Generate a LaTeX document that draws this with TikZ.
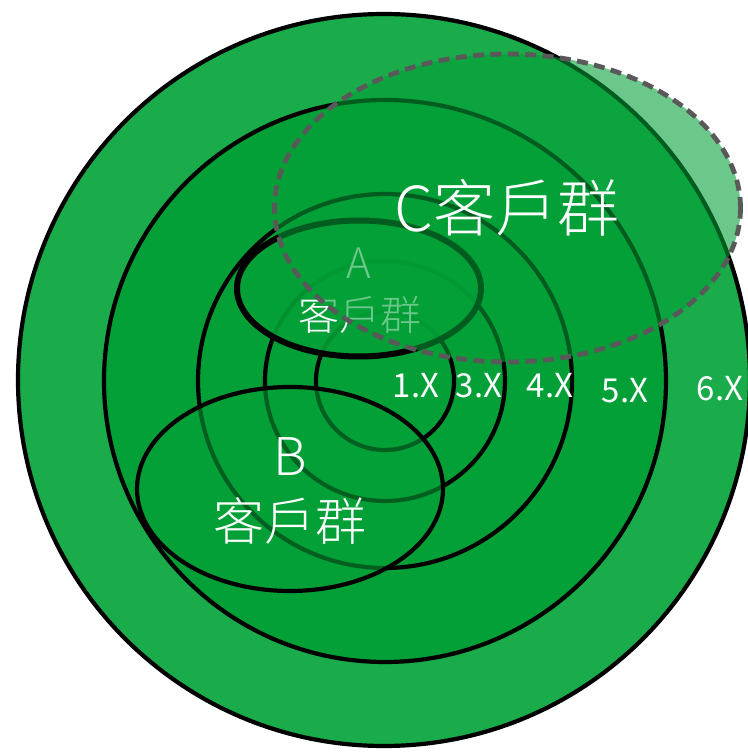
\documentclass[tikz,border=0pt]{standalone}
\usepackage{fontspec}
\newfontfamily\cjk{Noto Sans CJK TC}
\newfontfamily\cjklight{Noto Sans CJK TC Light}
\usetikzlibrary{positioning}

\definecolor{ringgreen}{RGB}{26,171,75}
\definecolor{coregreen}{RGB}{2,160,54}
\definecolor{dashgrey}{RGB}{89,89,89}

\begin{document}
\begin{tikzpicture}[x=0.5pt,y=0.5pt,
  ring/.style={draw=black,line width=2.1pt},
  lvl/.style={text=white,inner sep=0pt,font=\cjk\fontsize{16.5}{18}\selectfont},
  grouplbl/.style={text=white,inner sep=0pt}]
\useasboundingbox (0,0) rectangle (748,752);
\clip (0,0) rectangle (748,752);
% concentric levels
\draw[ring,fill=ringgreen] (384,372) circle (366);
\draw[ring,fill=coregreen] (385,371) circle (281);
\draw[ring] (385,371) circle (187);
\draw[ring] (385,371) circle (120);
\draw[ring] (385,371) circle (69);
% B group
\draw[line width=2.1pt,fill=coregreen,fill opacity=0.6] (290,263) ellipse (153 and 102);
\node[grouplbl,font=\cjklight\fontsize{26}{28}\selectfont] (bname) at (290,295) {B};
\node[grouplbl,font=\cjklight\fontsize{25.5}{28}\selectfont] (btext) at (290,231) {客戶群};
% A group
\draw[line width=3pt,fill=coregreen,fill opacity=0.9] (359,463.5) ellipse (122 and 68);
\node[grouplbl,font=\cjklight\fontsize{21}{24}\selectfont] (aname) at (359,489) {A};
\node[grouplbl,font=\cjklight\fontsize{20.5}{24}\selectfont] (atext) at (360,437) {客戶群};
% C group
\draw[draw=dashgrey,line width=2.4pt,dash pattern=on 5.5pt off 3.2pt,fill=coregreen,fill opacity=0.58] (507.5,544) ellipse (233 and 154);
\node[grouplbl,font=\cjklight\fontsize{31}{34}\selectfont] (cname) at (507,544) {C客戶群};
% level labels
\node[lvl] (l1) at (416,366) {1.X};
\node[lvl] (l3) at (479,366) {3.X};
\node[lvl] (l4) at (550,366) {4.X};
\node[lvl] (l5) at (625,361) {5.X};
\node[lvl] (l6) at (720,363) {6.X};
\end{tikzpicture}
\end{document}
